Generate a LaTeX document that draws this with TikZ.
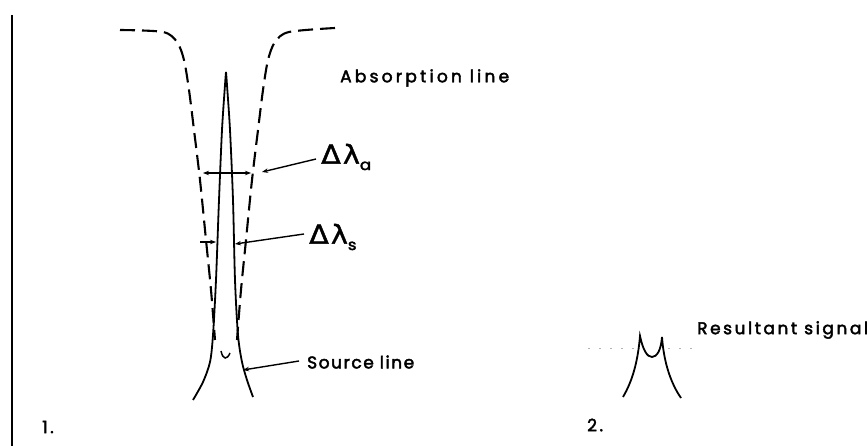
\documentclass[tikz,border=0pt]{standalone}
\usepackage{fontspec}
\setmainfont{Poppins}[LetterSpace=15,FakeBold=2.5]
\newfontfamily\greekfont{DejaVu Sans}[FakeBold=1.5]
\usetikzlibrary{arrows.meta}
\tikzset{
  absline/.style={line width=2.1pt, dash pattern=on 15pt off 7pt},
  srcline/.style={line width=1.8pt},
  frame/.style={line width=2.2pt},
  dimarrow/.style={line width=1.4pt, -{Stealth[length=6pt,width=4.5pt]}},
  dimboth/.style={line width=1.4pt, {Stealth[length=6pt,width=4.5pt]}-{Stealth[length=6pt,width=4.5pt]}},
  lbl/.style={font=\fontsize{17}{19}\selectfont, inner sep=0pt, anchor=west},
  dlbl/.style={font=\fontsize{26}{28}\selectfont, inner sep=0pt, anchor=west, xscale=1.1},
  faint/.style={gray!60, line width=0.7pt, dash pattern=on 2pt off 9pt},
}
\newcommand{\dlam}[1]{{\greekfont Δ\hspace{2pt}λ}\raisebox{-0.45ex}{\fontsize{15}{15}\selectfont #1}}
\begin{document}
\begin{tikzpicture}[x=1pt,y=-1pt]
\useasboundingbox (0,0) rectangle (868,446);
% frame
\draw[frame] (12,15) -- (12,446);
% absorption line (dashed)
\draw[absline] plot[smooth] coordinates {(120,30) (163,32) (177,42) (184,60) (189,90) (194,130) (200,180) (206,240) (211,290) (215,340)};
\draw[absline] plot[smooth] coordinates {(335,28) (289,32) (275,42) (268,60) (263,90) (258,130) (252,180) (246,240) (241,290) (237,340)};
% source line
\draw[srcline] plot[smooth] coordinates {(193,400) (203,382) (210,362) (213,335) (216,280) (219,200) (222,130) (225,85) (226,72)};
\draw[srcline] plot[smooth] coordinates {(226,72) (227,85) (230,130) (233,200) (235,280) (238,335) (242,362) (247,380) (253,397)};
\draw[line width=1.5pt] (221,351) .. controls (223,360) and (227,360) .. (230,353);
% labels
\node[lbl, font=\fontsize{17}{19}\selectfont\addfontfeatures{LetterSpace=19}] (abs) at (340,78) {Absorption line};
\node[dlbl] (da) at (321,157) {\dlam{a}};
\node[dlbl] (ds) at (309,237) {\dlam{s}};
\node[lbl, font=\fontsize{17}{19}\selectfont\addfontfeatures{LetterSpace=9}] (src) at (307,362) {Source line};
\node[lbl] (one) at (42,427) {1.};
\node[lbl] (two) at (587,425) {2.};
\node[lbl] (res) at (697,330) {Resultant signal};
% dimension arrows
\coordinate (daL) at (203,173);
\coordinate (daR) at (251,173);
\draw[dimboth] (daL) -- (daR);
\coordinate (daT) at (262,172);
\draw[dimarrow] (da.west) ++(-5,2) -- (daT);
\coordinate (dsA) at (200,242);
\coordinate (dsB) at (216,242);
\draw[dimarrow] (dsA) -- (dsB);
\coordinate (dsT) at (235,244);
\draw[dimarrow] (ds.west) ++(-5,-3) -- (dsT);
\coordinate (srcT) at (243,370);
\draw[dimarrow] (src.west) ++(-8,-1) -- (srcT);
% resultant signal
\draw[srcline] (623,397) .. controls (633,380) and (638,360) .. (640,336) .. controls (643,350) and (647,357) .. (652,357) .. controls (657,357) and (661,350) .. (662,337) .. controls (664,365) and (672,385) .. (681,398);
\draw[faint] (588,348) -- (634,348);
\draw[faint] (668,348) -- (700,348);
\end{tikzpicture}
\end{document}
